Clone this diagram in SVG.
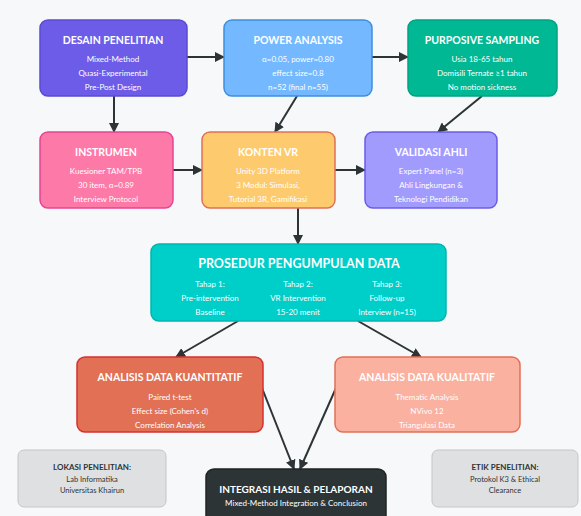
<svg xmlns="http://www.w3.org/2000/svg" width="581" height="516" viewBox="0 0 581 516">
<defs>
<marker id="ah" viewBox="0 0 10 10" refX="9" refY="5" markerWidth="10" markerHeight="10" markerUnits="userSpaceOnUse" orient="auto">
<path d="M0,0 L10,5 L0,10 Z" fill="#2d3436"/>
</marker>
</defs>
<style>
.box{stroke-width:1.5}
.t{font-family:Lato,"Open Sans","Liberation Sans",sans-serif;font-weight:bold;fill:#fff;text-anchor:middle}
.b{font-family:Lato,"Open Sans","Liberation Sans",sans-serif;fill:#fff;text-anchor:middle;font-size:8px}
.td{font-family:Lato,"Open Sans","Liberation Sans",sans-serif;font-weight:bold;fill:#2d3436;text-anchor:middle;font-size:8px}
.bd{font-family:Lato,"Open Sans","Liberation Sans",sans-serif;fill:#2d3436;text-anchor:middle;font-size:7.5px}
.e{fill:none;stroke:#2d3436;stroke-width:2;marker-end:url(#ah)}
</style>
<rect width="581" height="516" fill="#f7f8fa"/>
<g id="connectors">
<line class="e" x1="187" y1="57" x2="224" y2="57"/>
<line class="e" x1="372" y1="57" x2="408" y2="57"/>
<line class="e" x1="114" y1="96" x2="114" y2="132"/>
<line class="e" x1="297" y1="96" x2="275" y2="132"/>
<line class="e" x1="482" y1="96" x2="438" y2="132"/>
<line class="e" x1="173" y1="170" x2="202" y2="170"/>
<line class="e" x1="335" y1="170" x2="365" y2="170"/>
<line class="e" x1="298" y1="208" x2="298" y2="244"/>
<line class="e" x1="238" y1="321" x2="176" y2="357"/>
<line class="e" x1="358" y1="321" x2="421" y2="357"/>
<line class="e" x1="262" y1="388" x2="294" y2="469"/>
<line class="e" x1="336" y1="388" x2="300" y2="469"/>
</g>
<g id="desain">
<rect class="box" x="40" y="20" width="147" height="76" rx="8" fill="#6c5ce7" stroke="#5a4bd1"/>
<text class="t" x="113" y="44" font-size="10.5">DESAIN PENELITIAN</text>
<text class="b" x="113" y="62">Mixed-Method</text>
<text class="b" x="113" y="76">Quasi-Experimental</text>
<text class="b" x="113" y="90">Pre-Post Design</text>
</g>
<g id="power">
<rect class="box" x="224" y="20" width="148" height="76" rx="8" fill="#74b9ff" stroke="#3d8fe0"/>
<text class="t" x="298" y="44" font-size="10.5">POWER ANALYSIS</text>
<text class="b" x="298" y="62">α=0.05, power=0.80</text>
<text class="b" x="298" y="76">effect size=0.8</text>
<text class="b" x="298" y="90">n=52 (final n=55)</text>
</g>
<g id="purposive">
<rect class="box" x="408" y="20" width="149" height="76" rx="8" fill="#00b894" stroke="#00a383"/>
<text class="t" x="482" y="44" font-size="10.5">PURPOSIVE SAMPLING</text>
<text class="b" x="482" y="62">Usia 18-65 tahun</text>
<text class="b" x="482" y="76">Domisili Ternate ≥1 tahun</text>
<text class="b" x="482" y="90">No motion sickness</text>
</g>
<g id="instrumen">
<rect class="box" x="40" y="132" width="133" height="76" rx="8" fill="#fd79a8" stroke="#e84393"/>
<text class="t" x="106" y="156" font-size="10.5">INSTRUMEN</text>
<text class="b" x="106" y="174">Kuesioner TAM/TPB</text>
<text class="b" x="106" y="188">30 item, α=0.89</text>
<text class="b" x="106" y="202">Interview Protocol</text>
</g>
<g id="konten">
<rect class="box" x="202" y="132" width="133" height="76" rx="8" fill="#fdcb6e" stroke="#e17055"/>
<text class="t" x="268" y="156" font-size="10.5">KONTEN VR</text>
<text class="b" x="268" y="174">Unity 3D Platform</text>
<text class="b" x="268" y="188">3 Modul: Simulasi,</text>
<text class="b" x="268" y="202">Tutorial 3R, Gamifikasi</text>
</g>
<g id="validasi">
<rect class="box" x="365" y="132" width="132" height="76" rx="8" fill="#a29bfe" stroke="#6c5ce7"/>
<text class="t" x="431" y="156" font-size="10.5">VALIDASI AHLI</text>
<text class="b" x="431" y="174">Expert Panel (n=3)</text>
<text class="b" x="431" y="188">Ahli Lingkungan &amp;</text>
<text class="b" x="431" y="202">Teknologi Pendidikan</text>
</g>
<g id="prosedur">
<rect class="box" x="151" y="244" width="295" height="77" rx="8" fill="#00cec9" stroke="#00b5b0"/>
<text class="t" x="299" y="268" font-size="12.5">PROSEDUR PENGUMPULAN DATA</text>
<text class="b" x="210" y="287">Tahap 1:</text>
<text class="b" x="210" y="301">Pre-intervention</text>
<text class="b" x="210" y="315">Baseline</text>
<text class="b" x="298" y="287">Tahap 2:</text>
<text class="b" x="298" y="301">VR Intervention</text>
<text class="b" x="298" y="315">15-20 menit</text>
<text class="b" x="387" y="287">Tahap 3:</text>
<text class="b" x="387" y="301">Follow-up</text>
<text class="b" x="387" y="315">Interview (n=15)</text>
</g>
<g id="kuantitatif">
<rect class="box" x="77" y="357" width="186" height="75" rx="8" fill="#e17055" stroke="#d63031"/>
<text class="t" x="170" y="381" font-size="10.5">ANALISIS DATA KUANTITATIF</text>
<text class="b" x="170" y="400">Paired t-test</text>
<text class="b" x="170" y="414">Effect size (Cohen's d)</text>
<text class="b" x="170" y="428">Correlation Analysis</text>
</g>
<g id="kualitatif">
<rect class="box" x="335" y="357" width="185" height="75" rx="8" fill="#fab1a0" stroke="#e17055"/>
<text class="t" x="427" y="381" font-size="10.5">ANALISIS DATA KUALITATIF</text>
<text class="b" x="427" y="400">Thematic Analysis</text>
<text class="b" x="427" y="414">NVivo 12</text>
<text class="b" x="427" y="428">Triangulasi Data</text>
</g>
<g id="lokasi">
<rect x="18" y="450" width="148" height="57" rx="6" fill="#dfe0e1" stroke="#c4c6c8" stroke-width="1"/>
<text class="td" x="92" y="470">LOKASI PENELITIAN:</text>
<text class="bd" x="92" y="482">Lab Informatika</text>
<text class="bd" x="92" y="493">Universitas Khairun</text>
</g>
<g id="integrasi">
<rect x="206" y="469" width="180" height="56" rx="8" fill="#2d3436" stroke="#1e2324" stroke-width="1.5"/>
<text class="t" x="296" y="493" font-size="10">INTEGRASI HASIL &amp; PELAPORAN</text>
<text class="b" x="296" y="506" font-size="7.5">Mixed-Method Integration &amp; Conclusion</text>
</g>
<g id="etik">
<rect x="432" y="450" width="146" height="57" rx="6" fill="#dfe0e1" stroke="#c4c6c8" stroke-width="1"/>
<text class="td" x="505" y="470">ETIK PENELITIAN:</text>
<text class="bd" x="505" y="482">Protokol K3 &amp; Ethical</text>
<text class="bd" x="505" y="493">Clearance</text>
</g>
</svg>
